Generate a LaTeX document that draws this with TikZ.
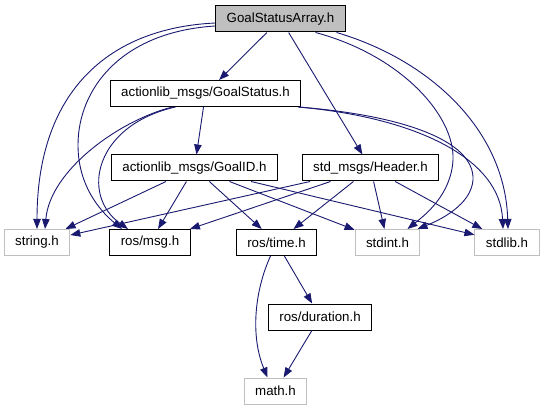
\documentclass[tikz,border=0pt]{standalone}
\usepackage{fontspec}
\setmainfont{Liberation Sans}
\usetikzlibrary{arrows.meta}

\definecolor{depblue}{RGB}{25,25,112}
\definecolor{sysgray}{RGB}{191,191,191}

\begin{document}
\begin{tikzpicture}[
    x=1pt, y=-1pt,
    font=\fontsize{13.3}{15}\selectfont,
    header/.style={draw=black, line width=1pt, minimum height=26pt,
        inner xsep=11pt, inner ysep=0pt},
    sysheader/.style={header, draw=sysgray},
    dep/.style={draw=depblue, line width=0.9pt,
        -{Triangle[length=10pt,width=7.5pt]}},
]
    \useasboundingbox (0,0) rectangle (545,411);

    \node [header, fill=sysgray] (array) at (280.5,19) {GoalStatusArray.h};
    \node [header] (status) at (205.5,93.5) {actionlib\_msgs/GoalStatus.h};
    \node [header] (goalid) at (194.5,168) {actionlib\_msgs/GoalID.h};
    \node [header] (stdhdr) at (370.5,168) {std\_msgs/Header.h};

    \node [sysheader] (string) at (37,242.5) {string.h};
    \node [header] (rosmsg) at (150,242.5) {ros/msg.h};
    \node [header] (rostime) at (276.5,242.5) {ros/time.h};
    \node [sysheader] (stdint) at (387.5,242.5) {stdint.h};
    \node [sysheader] (stdlib) at (507,242.5) {stdlib.h};

    \node [header] (duration) at (320,317) {ros/duration.h};
    \node [sysheader] (math) at (275.5,391) {math.h};

    % GoalStatusArray.h
    \draw [dep] (array) -- (status);
    \draw [dep] (array) -- (stdhdr);
    \draw [dep]
        ([yshift=-4pt]array.west)
        .. controls (110,28) and (37,90) ..
        (string.north)
        ;
    \draw [dep]
        ([yshift=-7pt]array.west)
        .. controls (120,32) and (78,90) .. (78,145)
        .. controls (78,190) and (105,215) ..
        ([xshift=-28pt]rosmsg.north)
        ;
    \draw [dep]
        ([xshift=35pt]array.south)
        .. controls (400,55) and (455,115) .. (453,160)
        .. controls (451,195) and (425,215) ..
        ([xshift=20pt]stdint.north)
        ;
    \draw [dep]
        ([xshift=56pt]array.south)
        .. controls (430,60) and (505,130) ..
        ([xshift=1pt]stdlib.north)
        ;

    % GoalStatus.h
    \draw [dep] (status) -- (goalid);
    \draw [dep]
        ([xshift=-33pt]status.south)
        .. controls (120,120) and (50,170) ..
        ([xshift=8pt]string.north)
        ;
    \draw [dep]
        ([xshift=-30pt]status.south)
        .. controls (95,125) and (80,195) ..
        ([xshift=-22pt]rosmsg.north)
        ;
    \draw [dep]
        ([xshift=-3pt]status.south east)
        .. controls (400,115) and (475,140) .. (473,180)
        .. controls (471,205) and (440,220) ..
        ([xshift=30pt]stdint.north)
        ;
    \draw [dep]
        ([xshift=-3pt]status.south east)
        .. controls (420,118) and (500,160) ..
        ([xshift=-4pt]stdlib.north)
        ;

    % GoalID.h and Header.h
    \foreach \src in {goalid, stdhdr}
        \foreach \dst in {string, rosmsg, rostime, stdint, stdlib}
            \draw [dep] (\src) -- (\dst);

    % ros/time.h
    \draw [dep] (rostime) -- (duration);
    \draw [dep]
        ([xshift=-6pt]rostime.south)
        .. controls (255,290) and (250,335) ..
        ([xshift=-8pt]math.north)
        ;
    \draw [dep] (duration) -- (math);
\end{tikzpicture}
\end{document}
